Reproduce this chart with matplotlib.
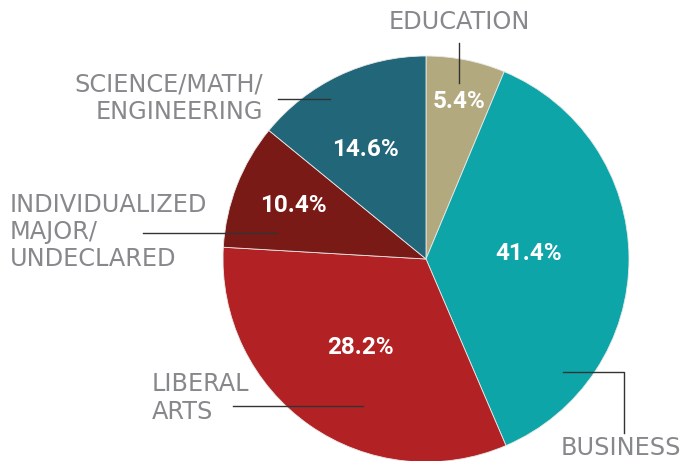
import matplotlib
matplotlib.use("agg")
import matplotlib.pyplot as plt

# 数据
categories = ["EDUCATION", "BUSINESS", "LIBERAL\nARTS",
              "INDIVIDUALIZED\nMAJOR/\nUNDECLARED", "SCIENCE/MATH/\nENGINEERING"]
shares = [5.4, 41.4, 28.2, 10.4, 14.6]          # 标注的百分比
wedge_sizes = [6.3, 37.3, 32.4, 10.0, 14.1]     # 图中扇区实际大小(按角度读出)
colors = ["#b3a97e", "#0ea5a8", "#b22224", "#7a1a16", "#22667a"]

W, H = 690, 461
fig = plt.figure(figsize=(W / 100, H / 100), dpi=100)
ax = fig.add_axes([0, 0, 1, 1])

cx, cy, r = 426, H - 259, 203


def py(y):
    # 像素坐标 -> 数据坐标
    return H - y


wedges, _ = ax.pie(wedge_sizes, colors=colors, startangle=90, counterclock=False,
                   center=(cx, cy), radius=r, frame=True,
                   wedgeprops=dict(edgecolor="#e8e8e8", linewidth=0.6))
ax.set_xlim(0, W)
ax.set_ylim(0, H)
ax.set_aspect("equal")
ax.axis("off")

# 百分比标签位置
pct_pos = [(459, 102), (529, 254), (360, 347), (293, 205), (365, 150)]
for v, (x, y) in zip(shares, pct_pos):
    ax.text(x, py(y), f"{v}%", color="white", fontsize=17.5, fontweight="bold",
            family=["Roboto", "DejaVu Sans"], ha="center", va="center")

lab_kw = dict(color="#87888c", fontsize=17.3, family="DejaVu Sans",
              linespacing=1.18)
line_kw = dict(color="#333333", linewidth=1)

# 引线
ax.plot([459, 459], [py(43), py(83)], **line_kw)
ax.plot([563, 624, 624], [py(372), py(372), py(433)], **line_kw)
ax.plot([233, 363], [py(406), py(406)], **line_kw)
ax.plot([143, 277], [py(233), py(233)], **line_kw)
ax.plot([278, 330], [py(99), py(99)], **line_kw)

# 类别标签
ax.text(459, py(22), categories[0], ha="center", va="center", **lab_kw)
ax.text(561, py(455), categories[1], ha="left", va="baseline", **lab_kw)
ax.text(152, py(398), categories[2], ha="left", va="center", **lab_kw)
ax.text(10, py(232), categories[3], ha="left", va="center", **lab_kw)
ax.text(263, py(98), categories[4], ha="right", va="center",
        multialignment="right", **lab_kw)

fig.savefig("out.png", dpi=100)
